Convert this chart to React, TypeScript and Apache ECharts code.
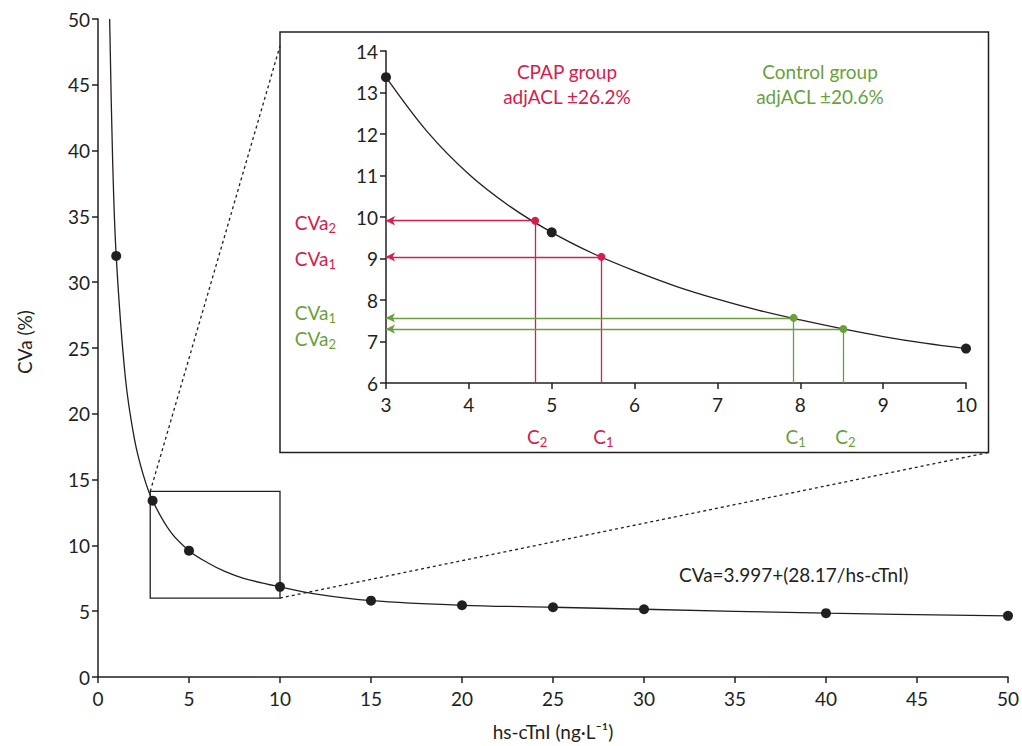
import React, { useEffect, useRef } from "react";
import * as echarts from "echarts";

// ---- data ----
const mainPointX = [1, 3, 5, 10, 15, 20, 25, 30, 40, 50];
const mainPointY = [32, 13.4, 9.6, 6.85, 5.8, 5.45, 5.3, 5.15, 4.85, 4.65];
const mainCurveX = [0.64, 0.8, 1, 1.5, 2, 2.5, 3, 4, 5, 6, 7, 8, 10, 12, 15, 20, 25, 30, 40, 50];
const mainCurveY = [50, 39.5, 32, 22.8, 18.1, 15.3, 13.4, 11.0, 9.6, 8.7, 8.0, 7.5, 6.85, 6.3, 5.8, 5.45, 5.3, 5.15, 4.85, 4.65];

const insetCurveX = [3, 3.5, 4, 4.5, 5, 5.5, 6, 6.5, 7, 7.5, 8, 8.5, 9, 9.5, 10];
const insetCurveY = [13.37, 12.05, 11.03, 10.25, 9.63, 9.12, 8.7, 8.33, 8.02, 7.75, 7.52, 7.31, 7.12, 6.96, 6.83];
const insetPointX = [3, 5, 10];
const insetPointY = [13.37, 9.63, 6.83];

const cpapC = [5.6, 4.8]; // C1, C2
const cpapCVa = [9.04, 9.91]; // CVa1, CVa2
const controlC = [7.92, 8.52];
const controlCVa = [7.57, 7.3];

const zoomBoxX = [2.87, 10];
const zoomBoxY = [6.0, 14.1];

const mainTicks = { min: 0, max: 50, interval: 5 };
const insetXTicks = { min: 3, max: 10, interval: 1 };
const insetYTicks = { min: 6, max: 14, interval: 1 };

const cpapTitle = ["CPAP group", "adjACL ±26.2%"];
const controlTitle = ["Control group", "adjACL ±20.6%"];
const equation = "CVa=3.997+(28.17/hs-cTnI)";

const INK = "#231f20";
const RED = "#d4204c";
const GREEN = "#6a9f3d";
const FONT = "Lato";
const FS = 19;
const SUB_FS = 13;

const zip = (a: number[], b: number[]) => a.map((v, i) => [v, b[i]]);

function axisCommon(margin: number) {
  return {
    axisLine: { show: true, onZero: false, lineStyle: { color: INK, width: 1.5 } },
    axisTick: { show: true, length: 6, lineStyle: { color: INK, width: 1.5 } },
    axisLabel: { color: INK, fontSize: FS, fontFamily: FONT, margin },
    splitLine: { show: false },
  };
}

export default function App() {
  const ref = useRef<HTMLDivElement>(null);
  useEffect(() => {
    if (!ref.current) return;
    const chart = echarts.init(ref.current, undefined, { renderer: "svg" });
    const option: any = {
      animation: false,
      backgroundColor: "#fff",
      textStyle: { fontFamily: FONT },
      grid: [
        { left: 98, top: 19, right: 13, bottom: 66 },
        { left: 386, top: 51, width: 580, height: 332 },
      ],
      xAxis: [
        {
          type: "value",
          gridIndex: 0,
          ...mainTicks,
          ...axisCommon(12),
          name: "hs-cTnI (ng·L⁻¹)",
          nameLocation: "middle",
          nameGap: 45,
          nameTextStyle: { color: INK, fontSize: FS, fontFamily: FONT },
        },
        {
          type: "value",
          gridIndex: 1,
          ...insetXTicks,
          ...axisCommon(12),
        },
      ],
      yAxis: [
        {
          type: "value",
          gridIndex: 0,
          ...mainTicks,
          ...axisCommon(8),
          name: "CVa (%)",
          nameLocation: "middle",
          nameGap: 64,
          nameRotate: 90,
          nameTextStyle: { color: INK, fontSize: FS, fontFamily: FONT, padding: [0, 0, 0, 12] },
        },
        {
          type: "value",
          gridIndex: 1,
          ...insetYTicks,
          ...axisCommon(8),
        },
      ],
      series: [
        {
          type: "line",
          xAxisIndex: 0,
          yAxisIndex: 0,
          data: zip(mainCurveX, mainCurveY),
          smooth: 0.35,
          showSymbol: false,
          symbol: "none",
          lineStyle: { color: INK, width: 1.3 },
          clip: true,
          z: 2,
        },
        {
          type: "scatter",
          xAxisIndex: 0,
          yAxisIndex: 0,
          data: zip(mainPointX, mainPointY),
          symbolSize: 10,
          itemStyle: { color: INK, opacity: 1 },
          z: 3,
        },
        {
          type: "line",
          xAxisIndex: 1,
          yAxisIndex: 1,
          data: zip(insetCurveX, insetCurveY),
          smooth: 0.35,
          showSymbol: false,
          symbol: "none",
          lineStyle: { color: INK, width: 1.3 },
          z: 2,
        },
        {
          type: "scatter",
          xAxisIndex: 1,
          yAxisIndex: 1,
          data: zip(insetPointX, insetPointY),
          symbolSize: 10,
          itemStyle: { color: INK, opacity: 1 },
          z: 4,
        },
        ...[
          { c: cpapC, v: cpapCVa, color: RED },
          { c: controlC, v: controlCVa, color: GREEN },
        ].map((g) => ({
          type: "scatter",
          xAxisIndex: 1,
          yAxisIndex: 1,
          data: zip(g.c, g.v),
          symbolSize: 8,
          itemStyle: { color: g.color, opacity: 1 },
          z: 4,
          markLine: {
            silent: true,
            animation: false,
            symbol: ["none", "arrow"],
            symbolSize: [7, 9],
            label: { show: false },
            lineStyle: { color: g.color, width: 1.3, type: "solid" },
            data: [
              ...g.c.map((c, i) => [
                { coord: [c, g.v[i]], symbol: "none" },
                { coord: [insetXTicks.min, g.v[i]], symbol: "arrow" },
              ]),
              ...g.c.map((c, i) => [
                { coord: [c, g.v[i]], symbol: "none" },
                { coord: [c, insetYTicks.min], symbol: "none" },
              ]),
            ],
          },
        })),
      ],
    };
    chart.setOption(option);

    const p0 = (pt: number[]) => chart.convertToPixel({ gridIndex: 0 }, pt) as number[];
    const p1 = (pt: number[]) => chart.convertToPixel({ gridIndex: 1 }, pt) as number[];

    const boxTL = p0([zoomBoxX[0], zoomBoxY[1]]);
    const boxBR = p0([zoomBoxX[1], zoomBoxY[0]]);
    const inset = { x: 280, y: 32, w: 708.5, h: 420.5 };

    const richSub = (color: string) => ({
      b: { fontSize: FS, fontFamily: FONT, fill: color },
      s: { fontSize: SUB_FS, fontFamily: FONT, fill: color, padding: [11, 0, 0, 0] },
    });
    const sub = (base: string, idx: string, color: string, x: number, y: number, align: string) => ({
      type: "text",
      x,
      y,
      z: 10,
      style: {
        text: `{b|${base}}{s|${idx}}`,
        align,
        verticalAlign: "middle",
        fill: color,
        rich: richSub(color),
      },
    });

    const labelRight = 336;
    const cLabelY = 436;
    const graphics: any[] = [
      {
        type: "rect",
        shape: { x: boxTL[0], y: boxTL[1], width: boxBR[0] - boxTL[0], height: boxBR[1] - boxTL[1] },
        style: { fill: "none", stroke: INK, lineWidth: 1.3 },
        z: 5,
      },
      {
        type: "rect",
        shape: { x: inset.x, y: inset.y, width: inset.w, height: inset.h },
        style: { fill: "none", stroke: INK, lineWidth: 1.5 },
        z: 5,
      },
      {
        type: "line",
        shape: { x1: boxTL[0], y1: boxTL[1], x2: inset.x, y2: inset.y + 14 },
        style: { stroke: INK, lineWidth: 1.3, lineDash: [3, 3] },
        z: 5,
      },
      {
        type: "line",
        shape: { x1: boxBR[0], y1: boxBR[1], x2: inset.x + inset.w, y2: inset.y + inset.h },
        style: { stroke: INK, lineWidth: 1.3, lineDash: [3, 3] },
        z: 5,
      },
      sub("CVa", "2", RED, labelRight, p1([3, cpapCVa[1]])[1] + 2, "right"),
      sub("CVa", "1", RED, labelRight, p1([3, cpapCVa[0]])[1] + 2, "right"),
      sub("CVa", "1", GREEN, labelRight, p1([3, controlCVa[0]])[1] - 5, "right"),
      sub("CVa", "2", GREEN, labelRight, p1([3, controlCVa[1]])[1] + 9, "right"),
      sub("C", "1", RED, p1([cpapC[0], 6])[0] + 2, cLabelY, "center"),
      sub("C", "2", RED, p1([cpapC[1], 6])[0] + 2, cLabelY, "center"),
      sub("C", "1", GREEN, p1([controlC[0], 6])[0] + 2, cLabelY, "center"),
      sub("C", "2", GREEN, p1([controlC[1], 6])[0] + 2, cLabelY, "center"),
      {
        type: "text",
        x: 567,
        y: 84,
        z: 10,
        style: {
          text: cpapTitle.join("\n"),
          align: "center",
          verticalAlign: "middle",
          fill: RED,
          fontSize: FS,
          fontFamily: FONT,
          lineHeight: 25,
        },
      },
      {
        type: "text",
        x: 820,
        y: 84,
        z: 10,
        style: {
          text: controlTitle.join("\n"),
          align: "center",
          verticalAlign: "middle",
          fill: GREEN,
          fontSize: FS,
          fontFamily: FONT,
          lineHeight: 25,
        },
      },
      {
        type: "text",
        x: 679,
        y: 574,
        z: 10,
        style: {
          text: equation,
          align: "left",
          verticalAlign: "middle",
          fill: INK,
          fontSize: FS,
          fontFamily: FONT,
        },
      },
    ];
    chart.setOption({ graphic: graphics });

    return () => chart.dispose();
  }, []);
  return (
    <div
      ref={ref}
      style={{ position: "fixed", left: 0, top: 0, width: 1022, height: 746, background: "#fff" }}
    />
  );
}
